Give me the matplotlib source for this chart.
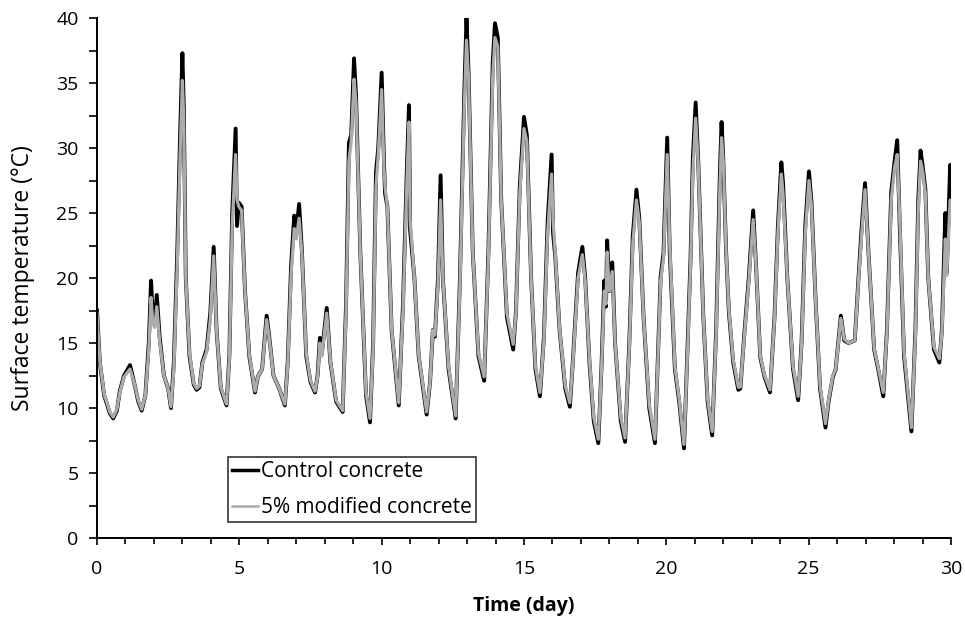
import matplotlib.pyplot as plt
from matplotlib.ticker import MultipleLocator

plt.rcParams['font.family'] = ['Open Sans', 'DejaVu Sans']

# time (day) at peaks / troughs / shoulders
days = [0.00, 0.10, 0.25, 0.45, 0.57, 0.70, 0.80, 0.95, 1.16, 1.30, 1.45, 1.57, 1.70, 1.82, 1.90, 1.96,
        2.03, 2.10, 2.20, 2.35, 2.50, 2.60, 2.70, 2.82, 2.92, 3.00, 3.05, 3.12, 3.25, 3.40, 3.50, 3.60,
        3.70, 3.85, 3.98, 4.10, 4.20, 4.35, 4.55, 4.65, 4.75, 4.87, 4.92, 4.98, 5.08, 5.20, 5.35, 5.55,
        5.65, 5.80, 5.96, 6.05, 6.20, 6.40, 6.60, 6.70, 6.82, 6.93, 7.00, 7.10, 7.20, 7.35, 7.50, 7.66,
        7.75, 7.83, 7.90, 8.07, 8.20, 8.40, 8.63, 8.75, 8.85, 8.93, 9.03, 9.10, 9.25, 9.45, 9.59, 9.70,
        9.80, 9.88, 10.00, 10.08, 10.12, 10.20, 10.35, 10.60, 10.75, 10.88, 10.96, 11.00, 11.15, 11.30,
        11.58, 11.70, 11.80, 11.87, 11.98, 12.07, 12.15, 12.35, 12.60, 12.75, 12.90, 12.98, 13.05, 13.20,
        13.40, 13.60, 13.75, 13.90, 13.98, 14.08, 14.20, 14.40, 14.62, 14.72, 14.85, 15.00, 15.10, 15.25,
        15.40, 15.56, 15.70, 15.83, 15.97, 16.02, 16.10, 16.25, 16.45, 16.61, 16.70, 16.90, 17.05, 17.15,
        17.30, 17.45, 17.61, 17.72, 17.82, 17.88, 17.92, 18.00, 18.10, 18.20, 18.40, 18.55, 18.70, 18.82,
        18.95, 19.05, 19.20, 19.40, 19.60, 19.72, 19.80, 19.90, 20.03, 20.12, 20.30, 20.45, 20.62, 20.75,
        20.85, 20.93, 21.03, 21.12, 21.30, 21.45, 21.61, 21.75, 21.88, 21.94, 22.00, 22.10, 22.20, 22.35,
        22.53, 22.60, 22.75, 22.90, 23.05, 23.15, 23.30, 23.45, 23.64, 23.80, 23.92, 24.04, 24.10, 24.25,
        24.45, 24.63, 24.75, 24.88, 25.01, 25.10, 25.25, 25.40, 25.59, 25.70, 25.85, 25.95, 26.13, 26.25,
        26.40, 26.62, 26.75, 26.85, 26.98, 27.10, 27.30, 27.45, 27.62, 27.75, 27.90, 28.02, 28.11, 28.20,
        28.35, 28.61, 28.75, 28.85, 28.93, 29.00, 29.10, 29.20, 29.40, 29.59, 29.68, 29.80, 29.85, 29.97,
        30.00]

control = [17.5, 13.5, 11.0, 9.6, 9.2, 9.8, 11.3, 12.5, 13.3, 12.0, 10.5, 9.8, 11.0, 15.0, 19.8, 17.0,
           16.5, 18.7, 15.5, 12.5, 11.5, 10.0, 13.5, 22.0, 31.0, 37.3, 33.0, 20.0, 14.0, 11.8, 11.4, 11.6,
           13.5, 14.5, 17.3, 22.4, 16.0, 11.5, 10.2, 14.0, 25.0, 31.5, 24.0, 25.8, 25.5, 19.0, 14.0, 11.2,
           12.4, 13.0, 17.1, 15.5, 12.5, 11.5, 10.2, 13.5, 21.0, 24.8, 23.5, 25.7, 22.0, 14.0, 12.0, 11.2,
           12.5, 15.4, 14.2, 17.7, 13.5, 10.5, 9.7, 18.0, 30.4, 31.0, 36.9, 34.0, 22.0, 11.0, 8.9, 15.0,
           28.1, 30.0, 35.8, 29.0, 26.5, 25.5, 16.0, 10.2, 18.0, 28.0, 33.3, 23.7, 20.0, 14.0,
           9.5, 12.0, 16.0, 15.5, 20.0, 27.9, 20.0, 13.0, 9.2, 20.0, 34.0, 40.0, 36.0, 22.0,
           14.0, 12.1, 22.0, 36.5, 39.6, 38.5, 26.0, 17.0, 14.5, 17.5, 27.0, 32.4, 31.0, 20.0,
           13.0, 10.9, 15.5, 24.3, 29.5, 23.5, 21.6, 16.0, 11.5, 10.1, 13.0, 20.4, 22.4, 20.0,
           13.5, 9.0, 7.3, 13.0, 19.8, 17.8, 22.9, 19.0, 21.2, 15.0, 9.0, 7.4, 15.0, 23.2,
           26.8, 24.6, 17.0, 10.0, 7.3, 15.0, 20.1, 21.9, 30.8, 22.0, 13.0, 10.5, 6.9, 15.0,
           21.5, 29.1, 33.5, 29.0, 17.0, 10.5, 7.9, 16.0, 28.0, 32.0, 29.1, 22.0, 17.3, 13.5,
           11.4, 11.5, 16.0, 20.1, 25.2, 21.0, 13.9, 12.4, 11.2, 17.0, 24.0, 28.9, 27.3, 20.0,
           13.0, 10.6, 15.0, 24.0, 28.2, 25.8, 18.0, 11.5, 8.5, 10.5, 12.4, 13.0, 17.1, 15.2,
           15.0, 15.2, 20.0, 23.5, 27.3, 22.0, 14.5, 12.9, 10.9, 16.0, 26.6, 29.0, 30.6, 24.0,
           14.0, 8.2, 16.0, 26.0, 29.8, 28.7, 26.8, 20.0, 14.5, 13.5, 16.0, 25.0, 20.4, 28.7,
           26.0]

modified = [17.3, 13.6, 11.1, 9.7, 9.3, 9.9, 11.2, 12.4, 13.0, 12.0, 10.6, 9.9, 11.0, 14.5, 18.5, 16.5,
            16.2, 17.8, 15.2, 12.5, 11.5, 10.1, 13.0, 21.0, 29.5, 35.2, 32.0, 20.0, 14.2, 11.9, 11.5, 11.7,
            13.4, 14.3, 16.8, 21.7, 16.0, 11.6, 10.3, 13.8, 24.0, 29.5, 26.0, 25.5, 25.2, 19.0, 14.1, 11.3,
            12.4, 13.0, 16.8, 15.4, 12.5, 11.5, 10.3, 13.3, 20.3, 23.8, 23.0, 24.6, 21.8, 14.2, 12.1, 11.3,
            12.4, 15.0, 14.0, 17.3, 13.6, 10.6, 9.8, 17.5, 29.0, 30.5, 35.3, 33.5, 22.0, 11.2, 9.2, 14.6,
            27.0, 29.5, 34.5, 28.5, 27.0, 25.5, 16.1, 10.4, 17.5, 27.0, 32.0, 24.5, 20.0, 14.1,
            9.7, 12.0, 16.0, 15.6, 19.5, 26.0, 20.0, 13.2, 9.4, 19.5, 33.0, 38.3, 35.5, 22.0,
            14.2, 12.4, 21.5, 35.5, 38.5, 37.8, 26.0, 17.3, 14.9, 17.4, 26.5, 31.5, 30.5, 20.0,
            13.2, 11.2, 15.2, 23.5, 28.0, 24.5, 21.8, 16.1, 11.7, 10.4, 12.9, 20.0, 21.8, 19.8,
            13.7, 9.3, 7.6, 12.8, 19.0, 18.0, 22.0, 19.0, 20.5, 15.0, 9.3, 7.7, 14.7, 22.6,
            26.0, 24.3, 17.0, 10.3, 7.6, 14.7, 19.8, 21.5, 29.5, 22.5, 13.2, 10.7, 7.2, 14.6,
            21.0, 28.0, 32.3, 28.8, 17.0, 10.7, 8.2, 15.6, 27.0, 30.8, 29.0, 22.0, 17.5, 13.7,
            11.6, 11.6, 15.8, 19.8, 24.5, 21.0, 14.0, 12.5, 11.4, 16.8, 23.5, 28.0, 26.5, 20.0,
            13.2, 10.9, 14.8, 23.4, 27.5, 25.5, 18.0, 11.7, 8.8, 10.6, 12.5, 13.0, 16.9, 15.3,
            15.0, 15.2, 19.8, 23.0, 26.8, 22.0, 14.6, 13.0, 11.2, 15.8, 26.0, 28.5, 29.5, 24.5,
            14.3, 8.5, 15.6, 25.2, 29.0, 28.3, 26.5, 20.0, 14.7, 13.8, 15.8, 23.0, 20.2, 26.0,
            25.8]

fig = plt.figure(figsize=(9.65, 6.22), dpi=100)
ax = fig.add_axes([0.1005, 0.135, 0.885, 0.836])

ax.plot(days, control, color='black', lw=2.8, solid_joinstyle='round', label='Control concrete')
ax.plot(days, modified, color='#ababab', lw=2.3, solid_joinstyle='round', label='5% modified concrete')

ax.set_xlim(0, 30)
ax.set_ylim(0, 40)
ax.xaxis.set_major_locator(MultipleLocator(5))
ax.xaxis.set_minor_locator(MultipleLocator(1))
ax.yaxis.set_major_locator(MultipleLocator(5))
ax.yaxis.set_minor_locator(MultipleLocator(2.5))
ax.tick_params(axis='x', which='major', direction='out', length=5, width=1.2, labelsize=14, pad=10.5)
ax.tick_params(axis='x', which='minor', direction='out', length=4.3, width=1.2)
ax.tick_params(axis='y', which='both', direction='out', length=5.8, width=1.2)
ax.tick_params(axis='y', which='major', labelsize=14, pad=7.5)
ax.spines['top'].set_visible(False)
ax.spines['right'].set_visible(False)
for s in ['left', 'bottom']:
    ax.spines[s].set_linewidth(1.4)

ax.set_xlabel('Time (day)', fontsize=14, fontweight='bold')
ax.xaxis.set_label_coords(0.5, -0.112)
ax.set_ylabel('Surface temperature (°C)', fontsize=16.5)
ax.yaxis.set_label_coords(-0.073, 0.5)

leg = ax.legend(loc='lower left', bbox_to_anchor=(0.1534, 0.0308), fontsize=15, frameon=True,
                fancybox=False, edgecolor='black', handlelength=1.25, handletextpad=0.15,
                borderpad=0.2, labelspacing=0.72, borderaxespad=0)
leg.get_frame().set_linewidth(1.2)
leg.get_lines()[0].set_linewidth(2.5)
leg.get_lines()[1].set_linewidth(1.8)

plt.savefig('out.png', dpi=100)
